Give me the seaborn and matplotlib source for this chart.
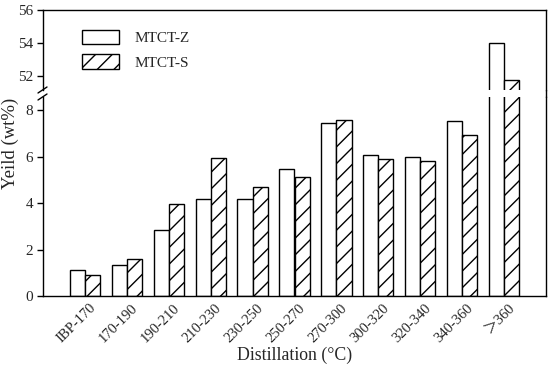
import matplotlib
matplotlib.use("Agg")
import matplotlib.pyplot as plt
from matplotlib.patches import Patch
from matplotlib.lines import Line2D
from matplotlib.transforms import ScaledTranslation
import seaborn as sns
import pandas as pd

categories = ["IBP-170", "170-190", "190-210", "210-230", "230-250", "250-270",
              "270-300", "300-320", "320-340", "340-360", "＞360"]
mtct_z = [1.13, 1.33, 2.86, 4.18, 4.18, 5.47, 7.45, 6.10, 6.00, 7.53, 54.0]
mtct_s = [0.91, 1.59, 3.97, 5.94, 4.70, 5.12, 7.58, 5.90, 5.80, 6.96, 51.76]
series = ["MTCT-Z", "MTCT-S"]
lower_ticks = [0, 2, 4, 6, 8]
upper_ticks = [52, 54, 56]

df = pd.DataFrame({
    "Distillation": categories * 2,
    "Yield": mtct_z + mtct_s,
    "Sample": [series[0]] * len(categories) + [series[1]] * len(categories),
})

sns.set_theme(style="white")
plt.rcParams["font.family"] = ["Liberation Serif", "Noto Sans CJK SC", "DejaVu Serif"]
plt.rcParams["hatch.linewidth"] = 1.0
plt.rcParams["hatch.color"] = "black"

W, H = 550, 370
fig = plt.figure(figsize=(5.5, 3.7), dpi=100)
x0, x1 = 43 / W, 546 / W
top_px, brk_top, brk_bot, bot_px = 10, 90, 97, 296
ax_top = fig.add_axes([x0, 1 - brk_top / H, x1 - x0, (brk_top - top_px) / H])
ax_bot = fig.add_axes([x0, 1 - bot_px / H, x1 - x0, (bot_px - brk_bot) / H])

for ax in (ax_top, ax_bot):
    sns.barplot(data=df, x="Distillation", y="Yield", hue="Sample",
                palette=["white", "white"], edgecolor="black", linewidth=1.0,
                width=0.72, ax=ax, legend=False, saturation=1)
    for bar in ax.containers[1]:
        bar.set_hatch("//")
    ax.set_xlim(-1, len(categories))
    ax.set_xlabel("")
    ax.set_ylabel("")
    for s in ax.spines.values():
        s.set_color("black")
        s.set_linewidth(1.0)
    ax.tick_params(axis="y", which="major", direction="out", length=4,
                   width=1, color="black", labelsize=11, pad=3, left=True)

ax_top.set_ylim(51.16, 56)
ax_top.set_yticks(upper_ticks)
ax_top.spines["bottom"].set_visible(False)
ax_top.tick_params(axis="x", bottom=False, labelbottom=False)

ax_bot.set_ylim(0, 8.58)
ax_bot.set_yticks(lower_ticks)
ax_bot.spines["top"].set_visible(False)
ax_bot.tick_params(axis="x", bottom=False, labelsize=10.5, pad=0)
shift = ScaledTranslation(4 / 100, 3 / 100, fig.dpi_scale_trans)
for lbl in ax_bot.get_xticklabels():
    lbl.set_rotation(45)
    lbl.set_ha("right")
    lbl.set_rotation_mode("anchor")
    lbl.set_transform(lbl.get_transform() + shift)

# continuous right frame across the break
fig.add_artist(Line2D([x1, x1], [1 - brk_top / H, 1 - brk_bot / H],
                      color="black", lw=1.0, transform=fig.transFigure))
# break marks on the left axis
for yc in (brk_top, brk_bot):
    fig.add_artist(Line2D([(43 - 5) / W, (43 + 4) / W],
                          [1 - (yc + 3) / H, 1 - (yc - 3) / H],
                          color="black", lw=1.0, transform=fig.transFigure))

fig.text(0.5 * (x0 + x1), 1 - 355 / H, "Distillation (°C)", ha="center",
         va="center", fontsize=12.8)
fig.text(10 / W, 1 - 143 / H, "Yeild (wt%)", ha="center", va="center",
         rotation=90, fontsize=13.5)

handles = [Patch(facecolor="white", edgecolor="black", lw=1.0),
           Patch(facecolor="white", edgecolor="black", lw=1.0, hatch="//")]
fig.legend(handles, series, loc="upper left",
           bbox_to_anchor=(82 / W, 1 - 30 / H), frameon=False, fontsize=11,
           handlelength=2.45, handleheight=1.05, handletextpad=1.0,
           labelspacing=0.6, borderpad=0, borderaxespad=0)

fig.savefig("out.png", dpi=100)
